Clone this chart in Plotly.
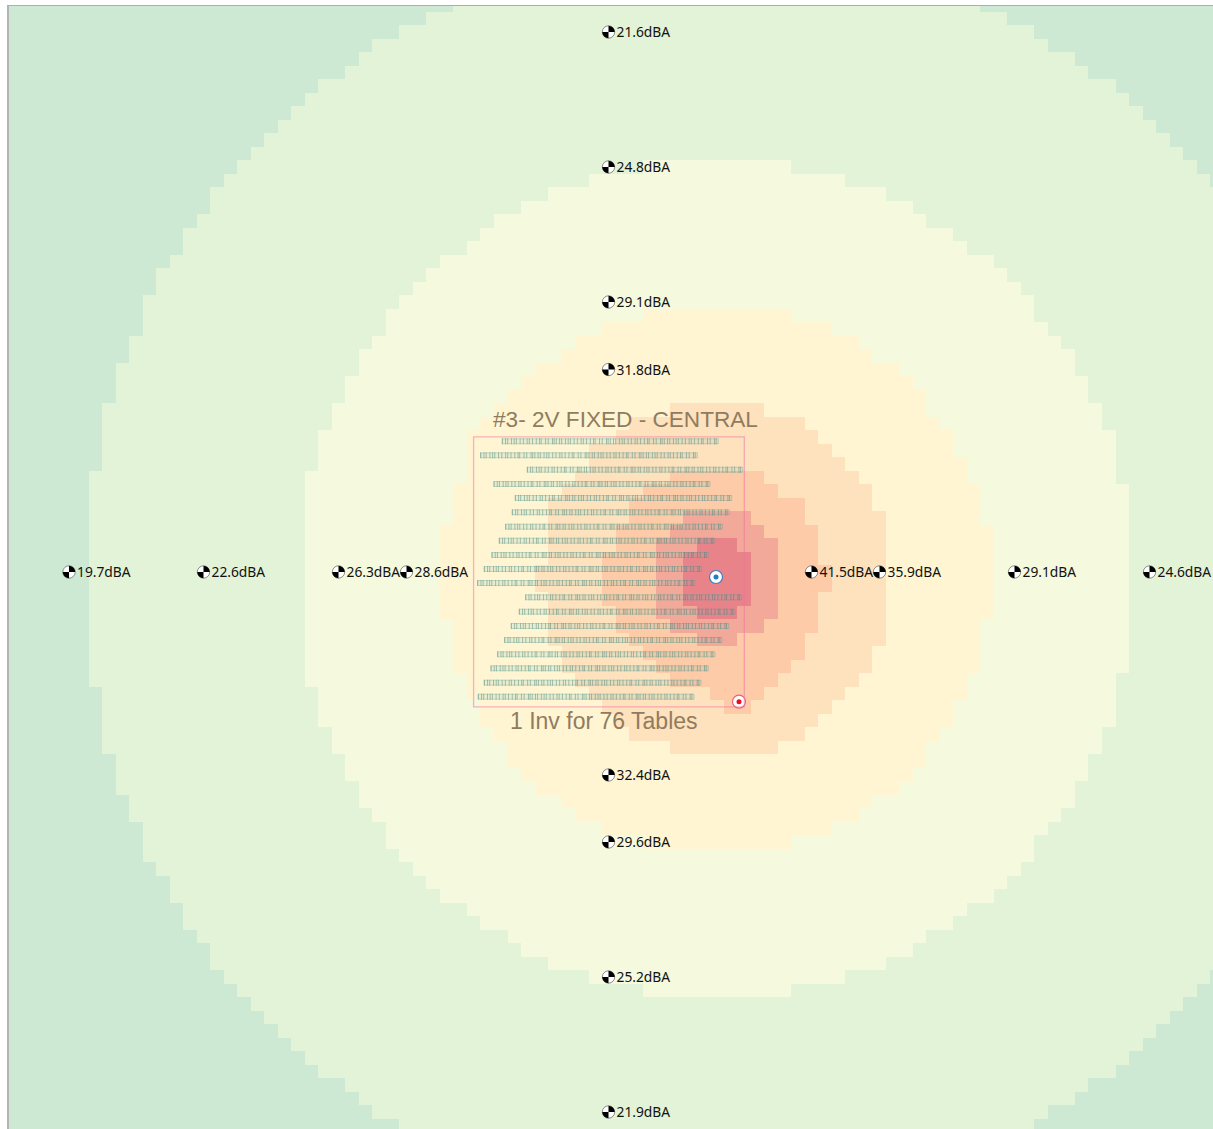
import math
import plotly.graph_objects as go

# Grid of the noise map (screen-scale units)
GRID_X_START = 7.6
GRID_Y_START = -1.8
GRID_DX = 13.51
GRID_DY = 13.5
N_COLS = 90
N_ROWS = 84

BAND_COLORS = ["#CEE9D3", "#E3F3D7", "#F5F9DE", "#FFF5D3", "#FEE1BD", "#FDCBA7", "#F3A999", "#E8838A"]

# Each band: first grid row, then per-row left/right column edges
BAND1_FIRST = 0
BAND1_LEFT = [33,31,29,27,26,25,23,22,21,20,19,18,17,16,15,15,14,13,13,12,11,11,10,10,10,9,9,8,8,8,7,7,7,7,7,
              6,6,6,6,6,6,6,6,6,6,6,6,6,6,6,6,7,7,7,7,7,8,8,8,9,9,10,10,10,11,12,12,13,13,14,15,15,16,17,18,19,20,21,22,23,25,26,27,29]
BAND1_RIGHT = [72,74,76,77,79,80,82,83,84,85,86,87,88,89,
               90,90,90,90,90,90,90,90,90,90,90,90,90,90,90,90,90,90,90,90,90,90,90,90,90,90,90,90,90,90,90,90,90,90,90,90,
               90,90,90,90,90,90,90,90,90,90,90,90,90,90,90,90,90,90,90,90,90,90,
               89,88,87,86,85,84,83,82,80,79,77,76]
BAND2_FIRST = 12
BAND2_LEFT = [47,43,40,38,36,35,34,32,31,30,29,28,28,27,26,26,25,25,24,24,23,23,23,
              22,22,22,22,22,22,22,22,22,22,22,22,22,22,22,22,23,23,23,24,24,25,25,26,26,27,28,28,29,30,31,32,34,35,37,38,40,43,47]
BAND2_RIGHT = [58,62,65,67,68,70,71,73,74,75,76,76,77,78,79,79,80,80,81,81,82,82,82,82,
               83,83,83,83,83,83,83,83,83,83,83,83,83,83,82,82,82,82,81,81,80,80,79,79,78,77,76,76,75,74,73,71,70,68,67,65,62,58]
BAND3_FIRST = 23
BAND3_LEFT = [47,44,42,41,39,38,37,36,35,34,34,34,34,33,33,33,32,32,32,32,32,32,32,33,33,33,33,34,34,35,35,36,37,37,38,39,41,42,44,47]
BAND3_RIGHT = [58,61,63,64,66,67,68,68,69,70,70,71,71,72,72,72,73,73,73,73,73,73,73,72,72,72,72,71,71,70,70,69,68,68,67,66,64,63,61,58]
BAND4_FIRST = 30
BAND4_LEFT = [49,46,45,43,43,42,41,40,40,40,40,40,39,39,40,40,40,40,41,41,42,43,44,45,46,49]
BAND4_RIGHT = [56,59,60,61,62,63,64,64,65,65,65,65,65,65,65,65,65,65,64,64,63,62,61,60,59,57]
BAND5_FIRST = 35
BAND5_LEFT = [49,47,46,46,45,45,44,44,44,44,45,45,46,47,48,49,52,53]
BAND5_RIGHT = [56,57,59,59,60,60,60,61,61,60,60,60,59,59,58,57,56,55]
BAND6_FIRST = 38
BAND6_LEFT = [50,49,48,48,48,48,48,48,49,51]
BAND6_RIGHT = [55,56,57,57,57,57,57,57,56,54]
BAND7_FIRST = 40
BAND7_LEFT = [51,50,50,50,50,51]
BAND7_RIGHT = [54,55,55,55,55,54]

# Receivers
RECEIVER_X = [608.5,608.5,608.5,608.5,608.5,608.5,608.5,608.5,69,203.5,338.5,406.5,811.5,879.5,1014.5,1149.5]
RECEIVER_Y = [32,167,302,369.5,775,842,977,1112,572,572,572,572,572,572,572,572]
RECEIVER_DBA = ["21.6","24.8","29.1","31.8","32.4","29.6","25.2","21.9","19.7","22.6","26.3","28.6","41.5","35.9","29.1","24.6"]

# Table rows of the array
TABLE_ROW_Y = [441.3,455.3,469.7,484,498,512.3,526.7,540.7,555,569,583,597.3,611.7,626,640,654.3,668.3,682.7,696.7]
TABLE_ROW_X0 = [502.3,480.7,527.3,494,515.3,512.3,505.7,499.3,492,484.3,477.7,525.7,519.3,511.3,504.7,497.7,491,484.3,478.3]
TABLE_ROW_X1 = [718.3,697.3,742.7,710,731.7,729.3,722.3,715,708.3,701.7,695,741.7,735,728.7,722,715,708.3,701,694]
TABLES_PER_ROW = 4
MODULE_EDGES = [0,0.06,0.1,0.17,0.22,0.26,0.33,0.39,0.46,0.5,0.56,0.63,0.69,0.72,0.8,0.85,0.93,0.96]

FENCE_X = [473.6,744.3]
FENCE_Y = [436.8,706.8]
INVERTER_X, INVERTER_Y = [716], [577]
TRANSFORMER_X, TRANSFORMER_Y = [739], [701.7]

# Build the grid
z = [[0]*N_COLS for _ in range(N_ROWS)]
BANDS = [(BAND1_FIRST,BAND1_LEFT,BAND1_RIGHT),(BAND2_FIRST,BAND2_LEFT,BAND2_RIGHT),(BAND3_FIRST,BAND3_LEFT,BAND3_RIGHT),
         (BAND4_FIRST,BAND4_LEFT,BAND4_RIGHT),(BAND5_FIRST,BAND5_LEFT,BAND5_RIGHT),(BAND6_FIRST,BAND6_LEFT,BAND6_RIGHT),
         (BAND7_FIRST,BAND7_LEFT,BAND7_RIGHT)]
for level,(first,lefts,rights) in enumerate(BANDS,1):
    assert len(lefts)==len(rights),(level,len(lefts),len(rights))
    for k,(a,b) in enumerate(zip(lefts,rights)):
        for c in range(a,b):
            z[first+k][c]=level

n=len(BAND_COLORS)
cs=[]
for i,c in enumerate(BAND_COLORS):
    cs += [[i/n,c],[(i+1)/n,c]]

fig=go.Figure()
fig.add_trace(go.Heatmap(z=z,x0=GRID_X_START+GRID_DX/2,dx=GRID_DX,y0=GRID_Y_START+GRID_DY/2,dy=GRID_DY,
                         zmin=0,zmax=n,colorscale=cs,showscale=False,hoverinfo="skip",zsmooth=False))

# Tables
tx,ty,bx,by=[],[],[],[]
for y,x0,x1 in zip(TABLE_ROW_Y,TABLE_ROW_X0,TABLE_ROW_X1):
    w=(x1-x0)/TABLES_PER_ROW
    for t in range(TABLES_PER_ROW):
        for e in MODULE_EDGES:
            xx=x0+(t+e)*w
            tx+=[xx,xx,None]; ty+=[y-3,y+3,None]
    bx+=[x0,x1,x1,x0,x0,None]; by+=[y-2.5,y-2.5,y+2.5,y+2.5,y-2.5,None]
fig.add_trace(go.Scatter(x=bx,y=by,mode="lines",line=dict(color="rgba(80,155,145,0.32)",width=1),fill="toself",fillcolor="rgba(120,185,175,0.15)",hoverinfo="skip",showlegend=False))
fig.add_trace(go.Scatter(x=tx,y=ty,mode="lines",line=dict(color="rgba(55,130,125,0.44)",width=1),hoverinfo="skip",showlegend=False))

shapes=[dict(type="rect",xref="x",yref="y",x0=FENCE_X[0],x1=FENCE_X[1],y0=FENCE_Y[0],y1=FENCE_Y[1],
             line=dict(color="rgba(240,110,160,0.5)",width=1.3),fillcolor="rgba(0,0,0,0)")]

# Receiver icons
R=6.2
def quarter(x,y,start):
    pts=[(x+R*math.cos(math.radians(start+a)),y+R*math.sin(math.radians(start+a))) for a in range(0,91,10)]
    return f"M {x} {y} "+" ".join(f"L {a:.2f} {b:.2f}" for a,b in pts)+" Z"
for x,y in zip(RECEIVER_X,RECEIVER_Y):
    shapes.append(dict(type="circle",xref="x",yref="y",x0=x-R,x1=x+R,y0=y-R,y1=y+R,fillcolor="white",line=dict(color="#222222",width=0.5)))
    shapes.append(dict(type="path",xref="x",yref="y",path=quarter(x,y,270),fillcolor="black",line=dict(width=0)))
    shapes.append(dict(type="path",xref="x",yref="y",path=quarter(x,y,90),fillcolor="black",line=dict(width=0)))

fig.add_trace(go.Scatter(x=[x+8 for x in RECEIVER_X],y=[y+2 for y in RECEIVER_Y],mode="text",text=[d+"dBA" for d in RECEIVER_DBA],
                         textposition="middle right",textfont=dict(family="Noto Sans",size=13.8,color="#111111"),hoverinfo="skip",showlegend=False))

# Equipment
fig.add_trace(go.Scatter(x=INVERTER_X,y=INVERTER_Y,mode="markers",marker=dict(size=13,color="white",line=dict(color="#3F7FBF",width=1.2)),hoverinfo="skip",showlegend=False))
fig.add_trace(go.Scatter(x=INVERTER_X,y=INVERTER_Y,mode="markers",marker=dict(size=5,color="#1F7FC0"),hoverinfo="skip",showlegend=False))
fig.add_trace(go.Scatter(x=TRANSFORMER_X,y=TRANSFORMER_Y,mode="markers",marker=dict(size=13,color="white",line=dict(color="#F06070",width=1.2)),hoverinfo="skip",showlegend=False))
fig.add_trace(go.Scatter(x=TRANSFORMER_X,y=TRANSFORMER_Y,mode="markers",marker=dict(size=5,color="#E81020"),hoverinfo="skip",showlegend=False))

annotations=[
    dict(x=625.5,y=419.5,xref="x",yref="y",text="#3- 2V FIXED - CENTRAL",showarrow=False,font=dict(family="Liberation Sans",size=22.6,color="#8F7C5F")),
    dict(x=603.5,y=720.5,xref="x",yref="y",text="1 Inv for 76 Tables",showarrow=False,font=dict(family="Liberation Sans",size=23,color="#8F7C5F")),
]

fig.update_layout(width=1213,height=1129,margin=dict(l=9,r=0,t=6,b=0),paper_bgcolor="white",plot_bgcolor="white",
                  showlegend=False,shapes=shapes,annotations=annotations,
                  xaxis=dict(range=[9,1213],visible=True,showgrid=False,zeroline=False,showticklabels=False,ticks="",side="top",showline=True,linecolor="#AEAEAE",linewidth=1),
                  yaxis=dict(range=[1129,6],showgrid=False,zeroline=False,showticklabels=False,ticks="",showline=True,linecolor="#B4B4B4",linewidth=2))
fig.write_html("out.html",config=dict(displayModeBar=False),post_script="document.body.style.margin='0';document.body.style.overflow='hidden';")
